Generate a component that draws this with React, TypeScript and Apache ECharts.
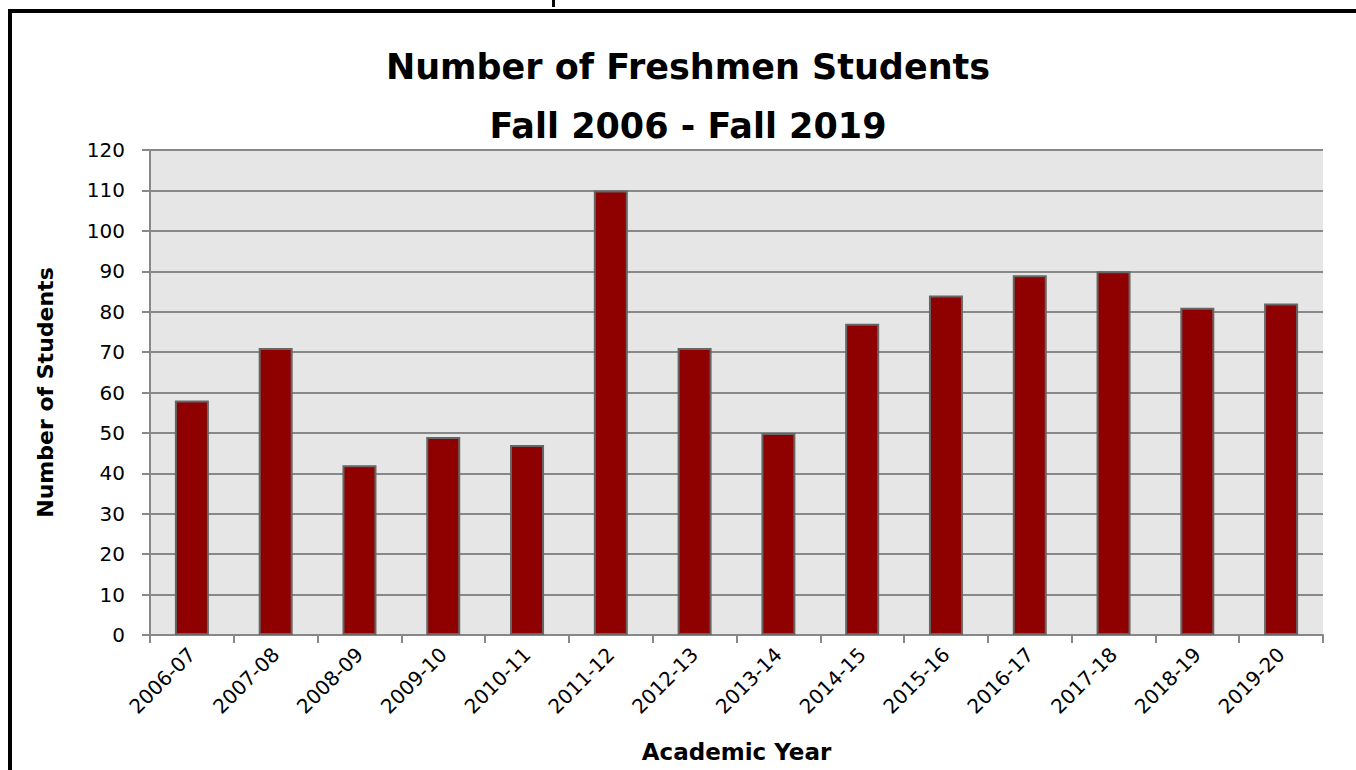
import React, { useEffect, useRef } from "react";
import * as echarts from "echarts";

const categories = ["2006-07", "2007-08", "2008-09", "2009-10", "2010-11", "2011-12", "2012-13", "2013-14", "2014-15", "2015-16", "2016-17", "2017-18", "2018-19", "2019-20"];
const students = [58, 71, 42, 49, 47, 110, 71, 50, 77, 84, 89, 90, 81, 82];
const titleLines = ["Number of Freshmen Students", "Fall 2006 - Fall 2019"];

const FONT = "'DejaVu Sans', 'Open Sans', sans-serif";

export default function App() {
  const ref = useRef<HTMLDivElement>(null);
  useEffect(() => {
    if (!ref.current) return;
    const chart = echarts.init(ref.current, undefined, { renderer: "svg" });
    chart.setOption({
      animation: false,
      backgroundColor: "#ffffff",
      textStyle: { fontFamily: FONT },
      graphic: [
        { type: "rect", shape: { x: 10, y: 11, width: 1400, height: 800 }, style: { fill: "none", stroke: "#000", lineWidth: 4 } },
        { type: "rect", shape: { x: 552, y: 0, width: 3, height: 7 }, style: { fill: "#000" } },
        { type: "text", x: 688, y: 67, style: { text: titleLines[0], font: `bold 35px ${FONT}`, fill: "#000", textAlign: "center", textVerticalAlign: "middle" } },
        { type: "text", x: 688, y: 126, style: { text: titleLines[1], font: `bold 35px ${FONT}`, fill: "#000", textAlign: "center", textVerticalAlign: "middle" } },
      ],
      grid: { left: 150, top: 150, right: 33, bottom: 135, show: true, backgroundColor: "#e6e6e6", borderWidth: 0 },
      xAxis: {
        type: "category",
        data: categories,
        name: "Academic Year",
        nameLocation: "middle",
        nameGap: 105,
        nameTextStyle: { fontFamily: FONT, fontWeight: "bold", fontSize: 23, color: "#000" },
        axisLine: { show: true, lineStyle: { color: "#888", width: 2 } },
        axisTick: { show: true, length: 8, lineStyle: { color: "#888", width: 2 } },
        axisLabel: { rotate: 45, fontSize: 20, color: "#000", margin: 16, fontFamily: FONT },
      },
      yAxis: {
        type: "value",
        min: 0,
        max: 120,
        interval: 10,
        name: "Number of Students",
        nameLocation: "middle",
        nameGap: 94,
        nameTextStyle: { fontFamily: FONT, fontWeight: "bold", fontSize: 22, color: "#000" },
        axisLine: { show: true, lineStyle: { color: "#888", width: 2 } },
        axisTick: { show: true, length: 8, lineStyle: { color: "#888", width: 2 } },
        axisLabel: { fontSize: 20, color: "#000", margin: 25, fontFamily: FONT },
        splitLine: { show: true, lineStyle: { color: "#888", width: 2 } },
      },
      series: [
        {
          type: "bar",
          data: students,
          barWidth: 34,
          itemStyle: { color: "#8f0000", borderColor: "#666", borderWidth: 2 },
        },
      ],
    });
    return () => chart.dispose();
  }, []);
  return <div ref={ref} style={{ position: "absolute", left: 0, top: 0, width: 1356, height: 770 }} />;
}
